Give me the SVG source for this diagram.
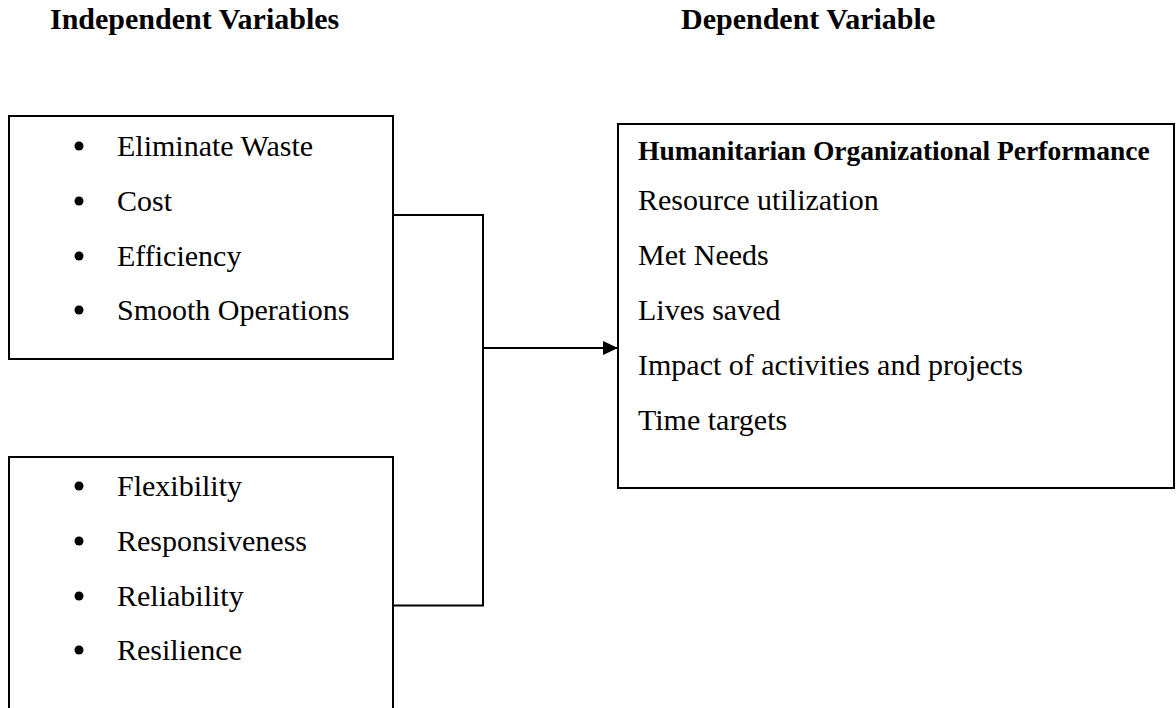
<svg xmlns="http://www.w3.org/2000/svg" width="1176" height="708" viewBox="0 0 1176 708">
<defs>
<style>
.box{fill:#fff;stroke:#000;stroke-width:2}
.t{font-family:"Liberation Serif","Times New Roman",serif;font-size:30px;fill:#000}
.h{font-family:"Liberation Serif","Times New Roman",serif;font-size:30px;font-weight:bold;fill:#000}
.ht{font-family:"Liberation Serif","Times New Roman",serif;font-size:27.5px;font-weight:bold;fill:#000}
.c{fill:none;stroke:#000;stroke-width:2}
</style>
<marker id="arr" markerWidth="15" markerHeight="14" refX="15" refY="7" orient="auto" markerUnits="userSpaceOnUse">
<path d="M0,0 L15,7 L0,14 Z" fill="#000"/>
</marker>
</defs>
<rect width="1176" height="708" fill="#fff"/>
<g id="headers">
<text class="h" x="50" y="29">Independent Variables</text>
<text class="h" x="681" y="29">Dependent Variable</text>
</g>
<g id="connectors">
<polyline class="c" points="393,215 483,215 483,605.5 393,605.5"/>
<line class="c" x1="483" y1="348" x2="618" y2="348" marker-end="url(#arr)"/>
</g>
<g id="box1">
<rect class="box" x="9" y="116" width="384" height="243"/>
<circle cx="79" cy="146" r="4.5"/><text class="t" x="117" y="156">Eliminate Waste</text>
<circle cx="79" cy="201" r="4.5"/><text class="t" x="117" y="211">Cost</text>
<circle cx="79" cy="256" r="4.5"/><text class="t" x="117" y="266">Efficiency</text>
<circle cx="79" cy="310" r="4.5"/><text class="t" x="117" y="320">Smooth Operations</text>
</g>
<g id="box2">
<rect class="box" x="9" y="457" width="384" height="270"/>
<circle cx="79" cy="486" r="4.5"/><text class="t" x="117" y="496">Flexibility</text>
<circle cx="79" cy="541" r="4.5"/><text class="t" x="117" y="551">Responsiveness</text>
<circle cx="79" cy="596" r="4.5"/><text class="t" x="117" y="606">Reliability</text>
<circle cx="79" cy="650" r="4.5"/><text class="t" x="117" y="660">Resilience</text>
</g>
<g id="box3">
<rect class="box" x="618" y="124" width="556" height="364"/>
<text class="ht" x="638" y="160">Humanitarian Organizational Performance</text>
<text class="t" x="638" y="210">Resource utilization</text>
<text class="t" x="638" y="265">Met Needs</text>
<text class="t" x="638" y="320">Lives saved</text>
<text class="t" x="638" y="375">Impact of activities and projects</text>
<text class="t" x="638" y="430">Time targets</text>
</g>
</svg>
